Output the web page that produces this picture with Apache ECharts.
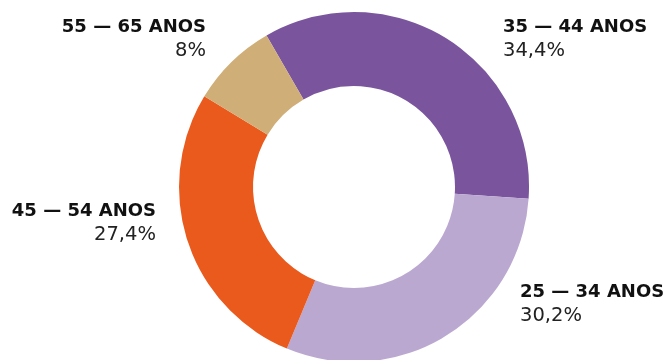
<!DOCTYPE html>
<html>
<head>
<meta charset="utf-8">
<script src="https://cdn.jsdelivr.net/npm/echarts@6/dist/echarts.min.js"></script>
<style>
  html, body { margin: 0; padding: 0; background: #fff; }
  #chart { width: 665px; height: 360px; }
</style>
</head>
<body>
<div id="chart"></div>
<script>
// Age brackets and their share (%)
const categories = ['35 — 44 ANOS', '25 — 34 ANOS', '45 — 54 ANOS', '55 — 65 ANOS'];
const shares = [34.4, 30.2, 27.4, 8];
const colors = ['#7A559E', '#BBA8D1', '#EA5A1D', '#CFAE77'];

// Label anchor per slice: [x, y, align]
const labelSpots = [
  [503, 15, 'left'],
  [520, 280, 'left'],
  [156, 199, 'right'],
  [206, 15, 'right']
];

const fmt = v => String(v).replace('.', ',') + '%';

const chart = echarts.init(document.getElementById('chart'), null, { renderer: 'canvas' });
chart.setOption({
  animation: false,
  series: [{
    type: 'pie',
    center: [354, 187],
    radius: [101, 175],
    startAngle: 120,
    clockwise: true,
    avoidLabelOverlap: false,
    data: categories.map((name, i) => ({
      name,
      value: shares[i],
      itemStyle: { color: colors[i] },
      label: { align: labelSpots[i][2] }
    })),
    label: {
      show: true,
      position: 'outside',
      formatter: p => '{b|' + p.name + '}\n{v|' + fmt(p.value) + '}',
      rich: {
        b: { fontFamily: 'DejaVu Sans', fontWeight: 'bold', fontSize: 18, color: '#111', lineHeight: 24 },
        v: { fontFamily: 'DejaVu Sans', fontWeight: 'normal', fontSize: 19.5, color: '#222', lineHeight: 24 }
      }
    },
    labelLine: { show: false },
    labelLayout: p => ({
      x: labelSpots[p.dataIndex][0],
      y: labelSpots[p.dataIndex][1],
      align: labelSpots[p.dataIndex][2],
      verticalAlign: 'top'
    })
  }]
});
</script>
</body>
</html>
